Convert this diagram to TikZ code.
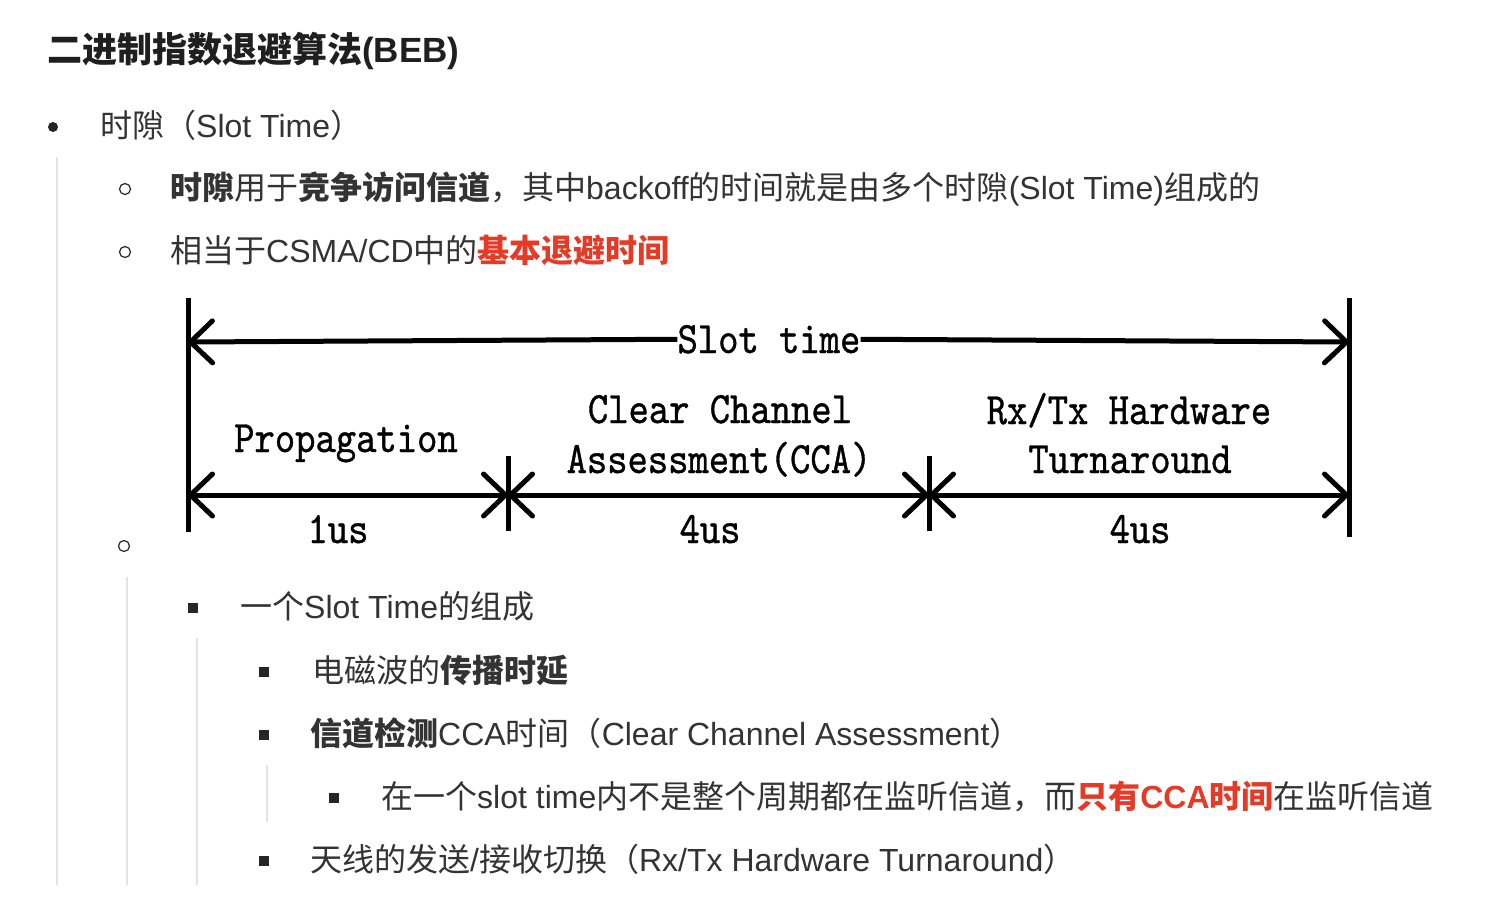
\documentclass[tikz,border=0pt]{standalone}
\usepackage{fontspec}
\setmainfont{Liberation Sans}
\newfontfamily\cjkf{Noto Sans CJK SC}
\newfontfamily\dgmfont{lmmono10-regular.otf}[FakeStretch=0.86,FakeBold=0.8]
\usetikzlibrary{arrows.meta}
\definecolor{bodytext}{HTML}{333333}
\definecolor{titletext}{HTML}{1F1F1F}
\definecolor{accent}{HTML}{E43A26}
\definecolor{guide}{HTML}{E3E3E3}
\definecolor{mark}{HTML}{26262A}
\newcommand{\zh}[1]{{\cjkf #1}}
\newcommand{\zhb}[1]{{\cjkf\bfseries #1}}

\begin{document}
\begin{tikzpicture}[x=1pt,y=-1pt,
  textline/.style={anchor=base west, inner sep=0pt, text=bodytext, font=\fontsize{32}{38}\selectfont},
  titleline/.style={anchor=base west, inner sep=0pt, text=titletext, font=\fontsize{35}{42}\selectfont\bfseries},
  guideline/.style={draw=guide, line width=1.5pt},
  dotmark/.style={circle, fill=mark, minimum size=10pt, inner sep=0pt},
  ringmark/.style={circle, draw=mark, line width=1.2pt, minimum size=11pt, inner sep=0pt},
  sqmark/.style={rectangle, fill=mark, minimum size=9.5pt, inner sep=0pt},
  bar/.style={line width=5pt, draw=black},
  barb/.tip={Straight Barb[length=22pt,width=42pt,round]},
  dim/.style={bar, barb-barb},
  dtext/.style={anchor=base, inner sep=0pt, text=black, font=\dgmfont\fontsize{45}{50}\selectfont}
]
\useasboundingbox (0,0) rectangle (1506,898);
\fill[white] (0,0) rectangle (1506,898);

% nesting guides
\draw[guideline] (57,157) -- (57,885);
\draw[guideline] (127,577) -- (127,885);
\draw[guideline] (197,638) -- (197,885);
\draw[guideline] (267,765) -- (267,822);

% heading and list text
\node[titleline] (title) at (47,62) {\zh{二进制指数退避算法}(BEB)};

\node[dotmark] (b1) at (53,127) {};
\node[textline] (l1) at (100,137) {\zh{时隙（}Slot Time\zh{）}};

\node[ringmark] (b2) at (125,189) {};
\node[textline] (l2) at (170,199) {\zhb{时隙}\zh{用于}\zhb{竞争访问信道}\zh{，其中}backoff\zh{的时间就是由多个时隙}(Slot Time)\zh{组成的}};

\node[ringmark] (b3) at (125,252) {};
\node[textline] (l3) at (170,262) {\zh{相当于}CSMA/CD\zh{中的}\textcolor{accent}{\zhb{基本退避时间}}};

\node[ringmark] (b4) at (124,546) {};

\node[sqmark] (b5) at (193,608) {};
\node[textline] (l5) at (240,618) {\zh{一个}Slot Time\zh{的组成}};

\node[sqmark] (b6) at (264,672) {};
\node[textline] (l6) at (312,682) {\zh{电磁波的}\zhb{传播时延}};

\node[sqmark] (b7) at (264,735) {};
\node[textline] (l7) at (310,745) {\zhb{信道检测}CCA\zh{时间（}Clear Channel Assessment\zh{）}};

\node[sqmark] (b8) at (334,798) {};
\node[textline] (l8) at (381,808) {\zh{在一个}slot time\zh{内不是整个周期都在监听信道，而}\textcolor{accent}{\zhb{只有}\bfseries CCA\zhb{时间}}\zh{在监听信道}};

\node[sqmark] (b9) at (264,861) {};
\node[textline] (l9) at (310,871) {\zh{天线的发送}/\zh{接收切换（}Rx/Tx Hardware Turnaround\zh{）}};

% slot time diagram
\coordinate (lt) at (188,298);
\coordinate (lb) at (188,532);
\coordinate (rt) at (1349,298);
\coordinate (rb) at (1349,537);
\coordinate (t1t) at (508,456);
\coordinate (t1b) at (508,531);
\coordinate (t2t) at (929,456);
\coordinate (t2b) at (929,531);
\draw[bar] (lt) -- (lb);
\draw[bar] (rt) -- (rb);
\draw[bar] (t1t) -- (t1b);
\draw[bar] (t2t) -- (t2b);

\coordinate (sl) at (188,342);
\coordinate (sr) at (1349,342);
\node[dtext] (slot) at (769,353) {Slot time};
\draw[bar, -barb] (slot.west) -- (sl);
\draw[bar, -barb] (slot.east) -- (sr);

\coordinate (p0) at (188,495);
\coordinate (p1) at (508,495);
\coordinate (p2) at (929,495);
\coordinate (p3) at (1349,495);
\draw[dim] (p0) -- (p1);
\draw[dim] (p1) -- (p2);
\draw[dim] (p2) -- (p3);

\node[dtext] (prop) at (346,452) {Propagation};
\node[dtext] (propt) at (338,543) {1us};
\node[dtext] (cca1) at (720,423) {Clear Channel};
\node[dtext] (cca2) at (719,473) {Assessment(CCA)};
\node[dtext] (ccat) at (710,543) {4us};
\node[dtext] (rx1) at (1129,424) {Rx/Tx Hardware};
\node[dtext] (rx2) at (1130,473) {Turnaround};
\node[dtext] (rxt) at (1140,543) {4us};
\end{tikzpicture}
\end{document}
